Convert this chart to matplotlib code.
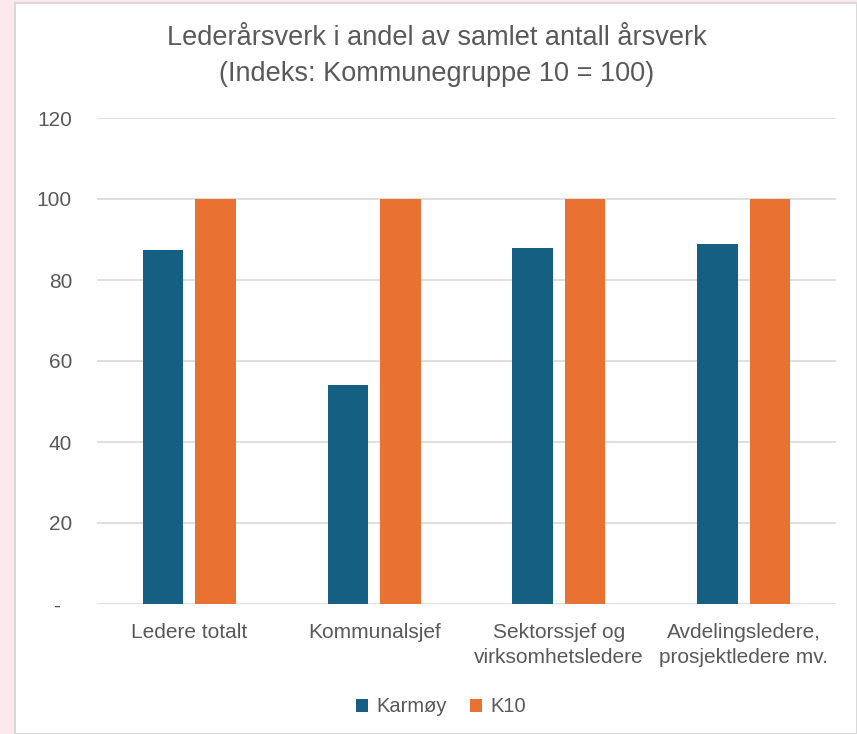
import matplotlib
matplotlib.use("Agg")
import matplotlib.pyplot as plt
import numpy as np
from matplotlib.patches import Rectangle

categories = ["Ledere totalt", "Kommunalsjef", "Sektorssjef og\nvirksomhetsledere", "Avdelingsledere,\nprosjektledere mv."]
karmoy = [87.5, 54.0, 87.8, 88.9]
k10 = [100, 100, 100, 100]
series_names = ["Karmøy", "K10"]
yticks = [0, 20, 40, 60, 80, 100, 120]
ytick_labels = ["-  ", "20", "40", "60", "80", "100", "120"]

c_blue = "#156082"
c_orange = "#e97132"
text_col = "#595959"

plt.rcParams['font.family'] = ['Liberation Sans', 'DejaVu Sans']

fig = plt.figure(figsize=(8.57, 7.34), dpi=100)
fig.patch.set_facecolor("#fbe9eb")
W, H = 857, 734
fig.patches.append(Rectangle((15 / W, 0), 1 - 15 / W, 1 - 3 / H, transform=fig.transFigure,
                             facecolor="white", edgecolor="#d9d9d9", linewidth=1.5, zorder=-10))

ax = fig.add_axes([97 / W, 1 - 604 / H, (836 - 97) / W, (604 - 118) / H])
ax.set_zorder(2)
ax.set_facecolor("none")
x = np.arange(len(categories))
w = 0.22
off = 0.142
ax.bar(x - off, karmoy, width=w, color=c_blue, zorder=3, label=series_names[0])
ax.bar(x + off, k10, width=w, color=c_orange, zorder=3, label=series_names[1])
ax.set_xlim(-0.5, len(categories) - 0.5)
ax.set_ylim(0, 120)
ax.set_yticks(yticks)
ax.set_yticklabels(ytick_labels)
ax.set_xticks(x)
ax.set_xticklabels(categories, linespacing=1.35)
ax.grid(axis='y', color="#d9d9d9", linewidth=1.2, zorder=0)
for s in ax.spines.values():
    s.set_visible(False)
ax.tick_params(axis='both', length=0, colors=text_col, labelsize=15)
ax.tick_params(axis='y', pad=18)
ax.tick_params(axis='x', pad=14)

fig.text(437 / W, 1 - 38 / H, "Lederårsverk i andel av samlet antall årsverk",
         ha='center', va='center', fontsize=19.5, color=text_col)
fig.text(437 / W, 1 - 74 / H, "(Indeks: Kommunegruppe 10 = 100)",
         ha='center', va='center', fontsize=19.5, color=text_col)

leg = fig.legend(loc='center', bbox_to_anchor=(441 / W, 1 - 707 / H), ncol=2, frameon=False,
                 fontsize=14.5, handlelength=0.6, handleheight=0.6, handletextpad=0.45, columnspacing=1.1)
for t in leg.get_texts():
    t.set_color(text_col)

fig.savefig("out.png", dpi=100, facecolor=fig.get_facecolor())
